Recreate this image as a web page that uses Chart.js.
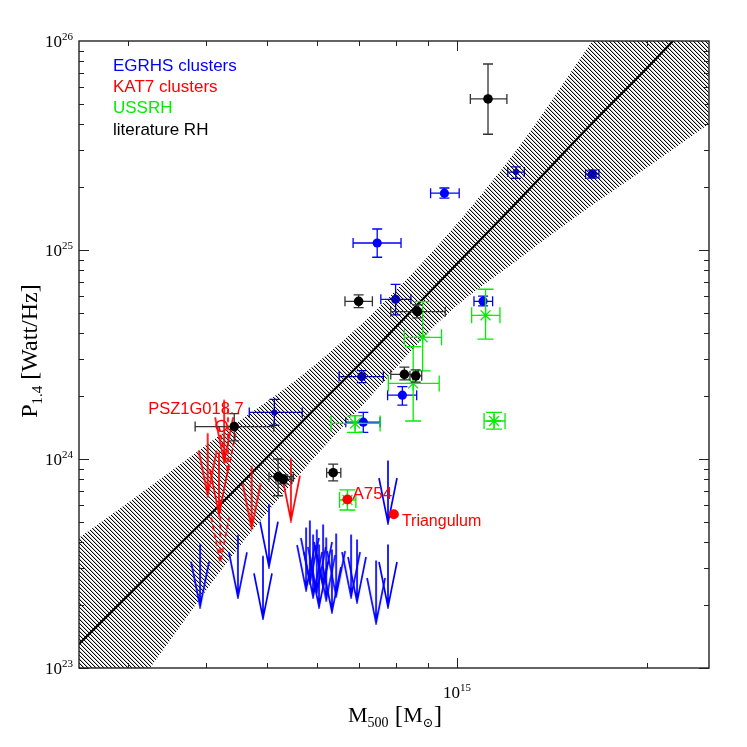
<!DOCTYPE html>
<html>
<head>
<meta charset="utf-8">
<script src="https://cdn.jsdelivr.net/npm/chart.js@4/dist/chart.umd.min.js"></script>
<style>
  html,body{margin:0;padding:0;background:#fff}
  canvas{display:block}
</style>
</head>
<body>
<canvas id="c" width="747" height="747"></canvas>
<script>
// ===================== DATOS =====================
// M500 en masas solares, P1.4 en W/Hz

// banda de confianza (límite superior / inferior) y ajuste
const bandM  = [2.51e14, 3.03e14, 3.50e14, 4.36e14, 5.63e14, 7.28e14, 9.50e14, 1.26e15, 1.64e15, 2.03e15, 2.51e15];
const bandHi = [4.19e23, 6.30e23, 8.67e23, 1.41e24, 2.47e24, 4.83e24, 1.12e25, 3.18e25, 1.00e26, 2.44e26, 6.22e26];
const bandLo = [3.44e22, 7.43e22, 1.35e23, 3.33e23, 8.47e23, 1.98e24, 4.73e24, 9.16e24, 1.64e25, 2.55e25, 4.01e25];
const fitM = [2.51e14, 3.50e14, 4.36e14, 5.63e14, 7.28e14, 9.50e14, 1.26e15, 1.64e15, 2.03e15, 2.51e15];
const fitP = [1.30e23, 3.51e23, 6.73e23, 1.47e24, 3.20e24, 7.33e24, 1.76e25, 4.05e25, 7.74e25, 1.52e26];

// literature RH (negro)
const litM   = [1.12e15, 6.98e14, 8.65e14, 8.25e14, 8.60e14, 4.43e14, 5.20e14, 5.30e14, 6.36e14];
const litP   = [5.28e25, 5.68e24, 5.07e24, 2.54e24, 2.50e24, 1.43e24, 8.23e23, 8.00e23, 8.60e23];
const litMlo = [1.05e15, 6.64e14, 7.85e14, 7.85e14, 8.42e14, 3.84e14, 5.03e14, 5.16e14, 6.21e14];
const litMhi = [1.20e15, 7.34e14, 9.58e14, 8.68e14, 8.79e14, 5.12e14, 5.50e14, 5.47e14, 6.54e14];
const litPlo = [3.58e25, 5.30e24, 4.73e24, 2.39e24, 2.33e24, 1.22e24, 6.67e23, 7.60e23, 7.85e23];
const litPhi = [7.76e25, 6.10e24, 5.46e24, 2.75e24, 2.67e24, 1.65e24, 1.00e24, 8.40e23, 9.46e23];

// EGRHS clusters (azul)
const egM   = [9.55e14, 7.47e14, 1.24e15, 1.64e15, 7.99e14, 1.10e15, 7.06e14, 8.19e14, 7.10e14, 5.13e14];
const egP   = [1.87e25, 1.08e25, 2.36e25, 2.31e25, 5.81e24, 5.68e24, 2.48e24, 2.02e24, 1.50e24, 1.67e24];
const egMlo = [9.08e14, 6.84e14, 1.204e15, 1.60e15, 7.57e14, 1.064e15, 6.50e14, 7.76e14, 6.66e14, 4.68e14];
const egMhi = [1.008e15, 8.15e14, 1.279e15, 1.68e15, 8.45e14, 1.139e15, 7.64e14, 8.63e14, 7.55e14, 5.68e14];
const egPlo = [1.77e25, 9.23e24, 2.20e25, 2.21e25, 4.89e24, 5.40e24, 2.32e24, 1.81e24, 1.34e24, 1.45e24];
const egPhi = [1.98e25, 1.26e25, 2.50e25, 2.41e25, 6.85e24, 6.01e24, 2.65e24, 2.22e24, 1.67e24, 1.93e24];
const egUlM = [3.91e14, 4.49e14, 4.92e14, 5.03e14, 5.76e14, 5.84e14, 5.91e14, 5.99e14, 6.04e14, 6.13e14, 6.20e14, 6.33e14, 6.43e14, 6.79e14, 6.94e14, 7.44e14, 7.77e14, 7.77e14];
const egUlP = [3.91e23, 4.34e23, 3.44e23, 6.08e23, 4.70e23, 5.08e23, 4.35e23, 4.60e23, 3.90e23, 4.86e23, 4.21e23, 3.69e23, 4.40e23, 4.35e23, 4.12e23, 3.27e23, 3.90e23, 9.83e23];

// USSRH (verde)
const usM   = [8.82e14, 1.11e15, 8.52e14, 1.145e15, 6.89e14, 6.70e14];
const usP   = [3.82e24, 4.87e24, 2.30e24, 1.52e24, 1.48e24, 6.37e23];
const usMlo = [8.25e14, 1.055e15, 7.78e14, 1.104e15, 6.31e14, 6.51e14];
const usMhi = [9.45e14, 1.170e15, 9.37e14, 1.192e15, 7.55e14, 6.91e14];
const usPlo = [2.64e24, 3.75e24, 1.52e24, 1.39e24, 1.34e24, 5.70e23];
const usPhi = [5.66e24, 6.49e24, 3.45e24, 1.67e24, 1.61e24, 7.11e23];

// KAT7 clusters (rojo)
const katNames = ['A754', 'Triangulum'];
const katM = [6.70e14, 7.94e14];
const katP = [6.40e23, 5.44e23];
const pszName = 'PSZ1G018.7';
const pszM = [4.23e14];
const pszP = [1.44e24];
const katUlM = [4.02e14, 4.19e14, 4.72e14, 5.45e14, 4.27e14];
const katUlP = [1.33e24, 1.08e24, 9.26e23, 1.01e24, 1.92e24];
const katUlDashM = [4.33e14, 4.21e14];
const katUlDashP = [1.73e24, 6.37e23];

// leyenda y ejes
const legendNames = ['EGRHS clusters', 'KAT7 clusters', 'USSRH', 'literature RH'];
const yTickExp = [23, 24, 25, 26];
const xTickExp = [15];

// ===================== ESTILO =====================
const BLUE = '#0000ff', RED = '#ff0000', GREEN = '#00ee00', BLACK = '#000000';
const legendColors = [BLUE, RED, GREEN, BLACK];
const SERIF = '"Liberation Serif","DejaVu Serif",serif';
const SANS = '"Liberation Sans",Arial,sans-serif';

const pts = (ms, ps) => ms.map((m, i) => ({x: m, y: ps[i]}));

// flecha de límite superior: el punto es el inicio del tallo
function flecha(color, dashed){
  const L = 62.5, ah = 45, aw = 9, pad = 2;
  const c = document.createElement('canvas');
  c.width = 2 * (aw + pad); c.height = 2 * (L + pad);
  const g = c.getContext('2d');
  const cx = c.width / 2, cy = c.height / 2;
  g.strokeStyle = color; g.lineWidth = 1.7;
  if (dashed) g.setLineDash([5, 3]);
  g.beginPath();
  g.moveTo(cx, cy); g.lineTo(cx, cy + L);
  g.moveTo(cx - aw, cy + L - ah); g.lineTo(cx, cy + L); g.lineTo(cx + aw, cy + L - ah);
  g.stroke();
  return c;
}

// rayado de la banda
function rayado(){
  const c = document.createElement('canvas');
  c.width = 4; c.height = 4;
  const g = c.getContext('2d');
  for (let i = 0; i < 4; i++){
    g.fillStyle = '#000'; g.fillRect(i, i, 1, 1);
    g.fillStyle = 'rgba(0,0,0,.22)'; g.fillRect((i + 1) % 4, i, 1, 1);
  }
  return document.getElementById('c').getContext('2d').createPattern(c, 'repeat');
}

// ===================== PLUGINS =====================
const errorBars = {
  id: 'errorBars',
  beforeDatasetDraw(chart, args){
    const ds = chart.data.datasets[args.index];
    if (!ds.err) return;
    const {ctx, chartArea: a, scales: {x, y}} = chart;
    const e = ds.err, cap = ds.errCap;
    ctx.save();
    ctx.beginPath(); ctx.rect(a.left, a.top, a.right - a.left, a.bottom - a.top); ctx.clip();
    ctx.strokeStyle = ds.errColor; ctx.lineWidth = 1.3;
    ds.data.forEach((p, i) => {
      const px = x.getPixelForValue(p.x), py = y.getPixelForValue(p.y);
      const x0 = x.getPixelForValue(e[0][i]), x1 = x.getPixelForValue(e[1][i]);
      const y0 = y.getPixelForValue(e[2][i]), y1 = y.getPixelForValue(e[3][i]);
      ctx.beginPath();
      ctx.moveTo(x0, py); ctx.lineTo(x1, py);
      ctx.moveTo(x0, py - cap); ctx.lineTo(x0, py + cap);
      ctx.moveTo(x1, py - cap); ctx.lineTo(x1, py + cap);
      ctx.moveTo(px, y0); ctx.lineTo(px, y1);
      ctx.moveTo(px - cap, y0); ctx.lineTo(px + cap, y0);
      ctx.moveTo(px - cap, y1); ctx.lineTo(px + cap, y1);
      ctx.stroke();
    });
    ctx.restore();
  }
};

function segs(ctx, parts, x, y, align){
  // parts: [texto, tamaño, desplazamiento vertical, familia]
  let w = 0;
  parts.forEach(p => { ctx.font = p[1] + 'px ' + p[3]; w += ctx.measureText(p[0]).width; });
  let cx = align === 'right' ? x - w : align === 'center' ? x - w / 2 : x;
  ctx.textAlign = 'left'; ctx.textBaseline = 'alphabetic';
  parts.forEach(p => {
    ctx.font = p[1] + 'px ' + p[3];
    ctx.fillText(p[0], cx, y + p[2]);
    cx += ctx.measureText(p[0]).width;
  });
}

const marco = {
  id: 'marco',
  afterDraw(chart){
    const {ctx, chartArea: a, scales: {x, y}} = chart;
    ctx.save();
    // marco y ticks
    ctx.strokeStyle = '#222'; ctx.lineWidth = 1.4;
    ctx.strokeRect(a.left, a.top, a.right - a.left, a.bottom - a.top);
    ctx.lineWidth = 1;
    ctx.beginPath();
    for (let e = 23; e < 26; e++) for (let k = 1; k <= 9; k++){
      const py = Math.round(y.getPixelForValue(k * Math.pow(10, e))) + 0.5;
      const len = k === 1 ? 10 : 5;
      ctx.moveTo(a.left, py); ctx.lineTo(a.left + len, py);
      ctx.moveTo(a.right, py); ctx.lineTo(a.right - len, py);
    }
    for (let e = 14; e <= 15; e++) for (let k = 1; k <= 9; k++){
      const v = k * Math.pow(10, e);
      if (v < x.min || v > x.max) continue;
      const px = Math.round(x.getPixelForValue(v)) + 0.5;
      const len = k === 1 ? 10 : 5;
      ctx.moveTo(px, a.bottom); ctx.lineTo(px, a.bottom - len);
      ctx.moveTo(px, a.top); ctx.lineTo(px, a.top + len);
    }
    ctx.stroke();

    // etiquetas de ticks
    ctx.fillStyle = '#000';
    yTickExp.forEach(e => {
      const py = y.getPixelForValue(Math.pow(10, e));
      segs(ctx, [['10', 17, 0, SERIF], [String(e), 11, -7, SERIF]], a.left - 6, py + 6, 'right');
    });
    xTickExp.forEach(e => {
      const px = x.getPixelForValue(Math.pow(10, e));
      segs(ctx, [['10', 17, 0, SERIF], [String(e), 11, -7, SERIF]], px, a.bottom + 30, 'center');
    });

    // títulos de ejes
    segs(ctx, [['M', 22, 0, SERIF], ['500', 14, 5, SERIF], [' [', 25, 1, SERIF], ['M', 22, 0, SERIF], ['\u2299', 13, 5, SERIF], [']', 25, 1, SERIF]],
      (a.left + a.right) / 2 + 1, 722, 'center');
    ctx.save();
    ctx.translate(37, 351); ctx.rotate(-Math.PI / 2);
    segs(ctx, [['P', 24, 0, SERIF], ['1.4', 15, 5, SERIF], [' [Watt/Hz]', 24, 0, SERIF]], 0, 0, 'center');
    ctx.restore();

    // leyenda
    ctx.font = '17px ' + SANS; ctx.textAlign = 'left'; ctx.textBaseline = 'middle';
    legendNames.forEach((t, i) => { ctx.fillStyle = legendColors[i]; ctx.fillText(t, 113, 66 + i * 21.3); });

    // nombres de cúmulos
    ctx.fillStyle = RED;
    const pa = [x.getPixelForValue(pszM[0]), y.getPixelForValue(pszP[0])];
    ctx.textAlign = 'right'; ctx.font = '16.5px ' + SANS;
    ctx.fillText(pszName, pa[0] + 22, pa[1] - 16);
    ctx.textAlign = 'left'; ctx.font = '17px ' + SANS;
    const a7 = [x.getPixelForValue(katM[0]), y.getPixelForValue(katP[0])];
    ctx.fillText(katNames[0], a7[0] + 5, a7[1] - 5);
    const tr = [x.getPixelForValue(katM[1]), y.getPixelForValue(katP[1])];
    ctx.font = '16px ' + SANS;
    ctx.fillText(katNames[1], tr[0] + 8, tr[1] + 7);
    ctx.restore();
  }
};

// ===================== GRÁFICA =====================
const patron = rayado();
const egRadius = egM.map((m, i) => (i === 2 || i === 9) ? 3 : 4.6);

new Chart(document.getElementById('c'), {
  type: 'scatter',
  data: {datasets: [
    {label: 'EGRHS', data: pts(egM, egP), pointStyle: 'circle', pointRadius: egRadius,
     backgroundColor: BLUE, borderWidth: 0, order: 10,
     err: [egMlo, egMhi, egPlo, egPhi], errCap: 5, errColor: BLUE},
    {label: 'banda inf', type: 'line', data: pts(bandM, bandLo), borderColor: 'rgba(0,0,0,0)',
     pointRadius: 0, fill: false, cubicInterpolationMode: 'monotone', order: 9},
    {label: 'banda sup', type: 'line', data: pts(bandM, bandHi), borderColor: 'rgba(0,0,0,0)',
     backgroundColor: patron, pointRadius: 0, fill: 1, cubicInterpolationMode: 'monotone', order: 9},
    {label: 'ajuste', type: 'line', data: pts(fitM, fitP), borderColor: BLACK, borderWidth: 2.2,
     pointRadius: 0, fill: false, cubicInterpolationMode: 'monotone', order: 8},
    {label: 'EGRHS UL', data: pts(egUlM, egUlP), pointStyle: flecha(BLUE, false), pointRadius: 5, order: 7},
    {label: 'KAT7 UL', data: pts(katUlM, katUlP), pointStyle: flecha(RED, false), pointRadius: 5, order: 6},
    {label: 'KAT7 UL2', data: pts(katUlDashM, katUlDashP), pointStyle: flecha(RED, true), pointRadius: 5, order: 6},
    {label: 'USSRH', data: pts(usM, usP), pointStyle: 'star', pointRadius: 7,
     borderColor: GREEN, borderWidth: 1.3, backgroundColor: 'rgba(0,0,0,0)', order: 5,
     err: [usMlo, usMhi, usPlo, usPhi], errCap: 8, errColor: GREEN},
    {label: 'literature RH', data: pts(litM, litP), pointStyle: 'circle', pointRadius: 4.8,
     backgroundColor: BLACK, borderWidth: 0, order: 4,
     err: [litMlo, litMhi, litPlo, litPhi], errCap: 5, errColor: '#333'},
    {label: 'KAT7', data: pts(katM, katP), pointStyle: 'circle', pointRadius: 5,
     backgroundColor: RED, borderWidth: 0, order: 3},
    {label: 'PSZ', data: pts(pszM, pszP), pointStyle: 'circle', pointRadius: 5.5,
     backgroundColor: 'rgba(0,0,0,0)', borderColor: RED, borderWidth: 1.5, order: 3}
  ]},
  options: {
    responsive: false, animation: false, devicePixelRatio: 1, events: [],
    layout: {padding: {left: 79, right: 38, top: 41, bottom: 79}},
    plugins: {legend: {display: false}, tooltip: {enabled: false}},
    scales: {
      x: {type: 'logarithmic', display: false, min: Math.pow(10, 14.4), max: Math.pow(10, 15.4)},
      y: {type: 'logarithmic', display: false, min: 1e23, max: 1e26}
    }
  },
  plugins: [errorBars, marco]
});
</script>
</body>
</html>
